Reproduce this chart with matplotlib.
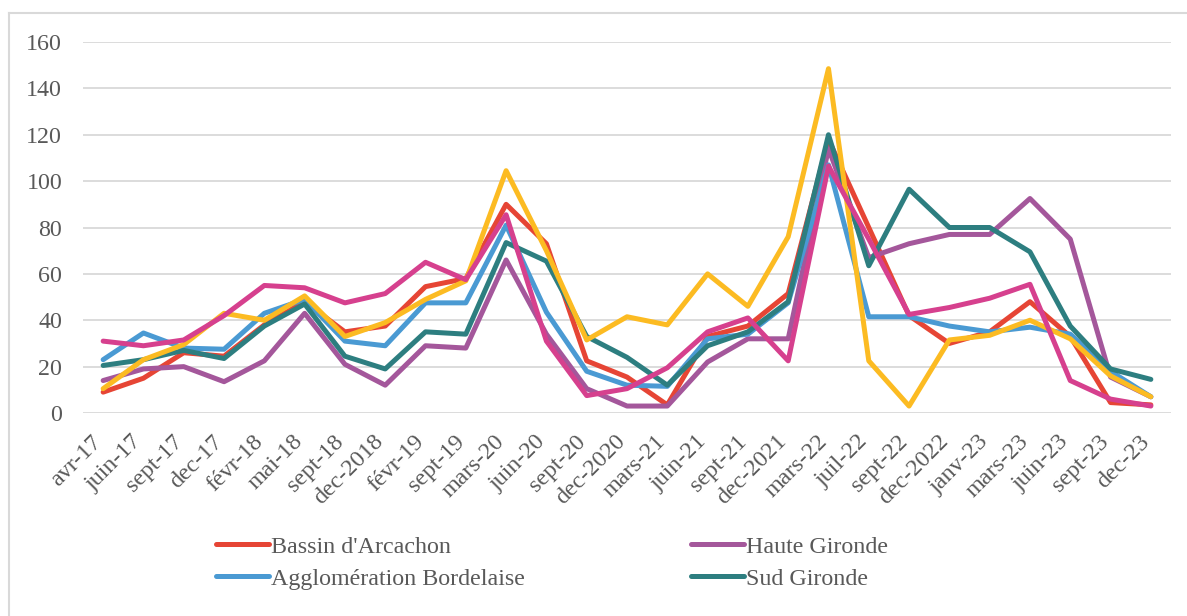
import matplotlib

matplotlib.use("Agg")
import matplotlib.pyplot as plt
from matplotlib.lines import Line2D
from matplotlib.transforms import ScaledTranslation

plt.rcParams["font.family"] = ["Liberation Serif", "DejaVu Serif"]

periods = ["avr-17", "juin-17", "sept-17", "dec-17", "févr-18", "mai-18", "sept-18",
           "dec-2018", "févr-19", "sept-19", "mars-20", "juin-20", "sept-20",
           "dec-2020", "mars-21", "juin-21", "sept-21", "dec-2021", "mars-22",
           "juil-22", "sept-22", "dec-2022", "janv-23", "mars-23", "juin-23",
           "sept-23", "dec-23"]

arcachon = [9, 15, 26, 24.5, 38, 48, 35, 37.5, 54.5, 58, 90, 73, 22.5, 15.5, 3.5,
            33, 37.5, 51.5, 118, 80, 42, 30, 35, 48, 33, 4.5, 3.5]
haute_gironde = [14, 19, 20, 13.5, 22.5, 43, 21, 12, 29, 28, 66, 34, 10.5, 3, 3,
                 22, 32, 32, 114, 67, 73, 77, 77, 92.5, 75, 15.5, 7]
bordelaise = [23, 34.5, 28, 27.5, 43, 49, 31, 29, 47.5, 47.5, 81, 43.5, 18, 12, 11.5,
              32, 34, 47.5, 107, 41.5, 41.5, 37.5, 35, 37, 34, 18, 7]
sud_gironde = [20.5, 23, 27, 23.5, 37.5, 47, 24.5, 19, 35, 34, 73.5, 65.5, 33, 24, 12,
               29, 35, 48, 120, 63.5, 96.5, 80, 80, 69.5, 37.5, 19, 14.5]
medoc = [10.5, 23, 29.5, 43, 40, 50.5, 33, 39, 49, 57, 104.5, 70, 31.5, 41.5, 38,
         60, 46, 76, 148.5, 22.5, 3, 31.5, 33.5, 40, 32, 16, 7]
libournais = [31, 29, 31.5, 42, 55, 54, 47.5, 51.5, 65, 57.5, 85.5, 31, 7.5, 10.5, 19.5,
              35, 41, 22.5, 106.5, 75, 42.5, 45.5, 49.5, 55.5, 14, 6, 3]

series = [
    ("Bassin d'Arcachon", arcachon, "#E64535"),
    ("Haute Gironde", haute_gironde, "#A4579B"),
    ("Agglomération Bordelaise", bordelaise, "#4A9AD3"),
    ("Sud Gironde", sud_gironde, "#2D7E80"),
    ("Médoc", medoc, "#FCBB22"),
    ("Libournais", libournais, "#D6408E"),
]

GREY = "#595959"
GRID = "#D9D9D9"
FS = 17.3

fig = plt.figure(figsize=(11.87, 6.16), dpi=100)
ax = fig.add_axes([83 / 1187, 1 - 413 / 616, (1171 - 83) / 1187, (413 - 42) / 616])

lines = {}
x = range(len(periods))
for name, vals, color in series:
    ln, = ax.plot(x, vals, color=color, lw=3.6, solid_joinstyle="round",
                  solid_capstyle="round", label=name)
    lines[name] = ln

ax.set_xlim(-0.5, len(periods) - 0.5)
ax.set_ylim(0, 160)
ax.set_yticks(range(0, 161, 20))
ax.set_xticks(list(x))
ax.set_xticklabels(periods, rotation=45, ha="right", rotation_mode="anchor")
ax.grid(axis="y", color=GRID, lw=1.3)
ax.set_axisbelow(True)
for s in ax.spines.values():
    s.set_visible(False)
ax.tick_params(length=0, labelsize=FS, labelcolor=GREY)
ax.tick_params(axis="y", pad=15)
ax.tick_params(axis="x", pad=8)

# nudge the slanted month labels so they end just left of their tick
shift = ScaledTranslation(-12 / 100, -7 / 100, fig.dpi_scale_trans)
for lab in ax.get_xticklabels():
    lab.set_transform(lab.get_transform() + shift)

# only the first four regions fit in the visible legend
shown = ["Bassin d'Arcachon", "Agglomération Bordelaise", "Haute Gironde", "Sud Gironde"]
fig.legend([lines[n] for n in shown], shown, ncol=2, frameon=False,
           loc="upper left", bbox_to_anchor=(216 / 1187, 1 - 536 / 616),
           fontsize=FS, labelcolor=GREY, handlelength=2.2, handletextpad=0.1,
           columnspacing=6.9, labelspacing=0.42, borderpad=0, borderaxespad=0)

# chart area border
top = 1 - 13 / 616
left = 9 / 1187
fig.add_artist(Line2D([left, 1], [top, top], color=GRID, lw=1.5))
fig.add_artist(Line2D([left, left], [0, top], color=GRID, lw=1.5))

fig.savefig("out.png", dpi=100)
